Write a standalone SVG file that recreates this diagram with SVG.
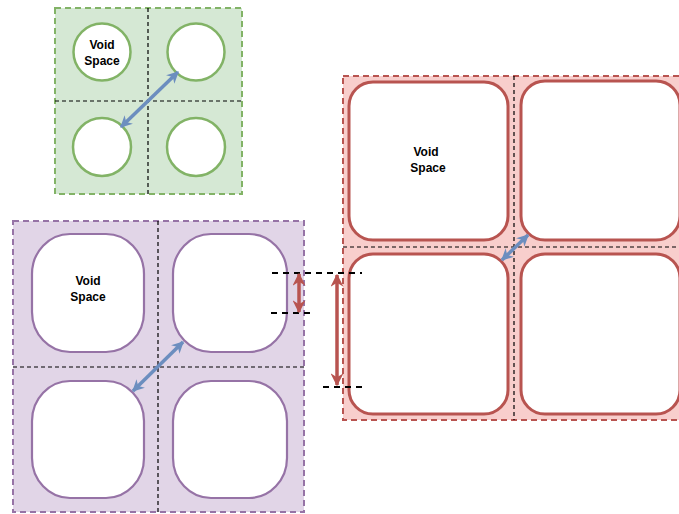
<svg xmlns="http://www.w3.org/2000/svg" width="679" height="514" viewBox="0 0 679 514">
  <style>
    .grid { fill: none; stroke: #000; stroke-width: 1.2; stroke-dasharray: 4 3; }
    .dim { fill: none; stroke: #000; stroke-width: 2; stroke-dasharray: 6 5; }
    .lbl { font-family: "Liberation Sans", Arial, sans-serif; font-size: 12px; font-weight: bold; fill: #000; text-anchor: middle; }
    .void { fill: #fff; }
    .frame { stroke-width: 2; stroke-dasharray: 6 4; }
    .gap { fill: none; stroke: #6c8ebf; stroke-width: 3.5; marker-start: url(#blueHead); marker-end: url(#blueHead); }
    .span { fill: none; stroke: #b85450; stroke-width: 3.5; marker-start: url(#redHead); marker-end: url(#redHead); }
  </style>
  <defs>
    <marker id="blueHead" viewBox="0 0 10 10" refX="9" refY="5" markerWidth="13" markerHeight="12" orient="auto-start-reverse" markerUnits="userSpaceOnUse">
      <path d="M0,0 L10,5 L0,10 L3,5 Z" fill="#6c8ebf"/>
    </marker>
    <marker id="redHead" viewBox="0 0 10 10" refX="9" refY="5" markerWidth="13" markerHeight="13" orient="auto-start-reverse" markerUnits="userSpaceOnUse">
      <path d="M0,0 L10,5 L0,10 L3,5 Z" fill="#b85450"/>
    </marker>
  </defs>

  <!-- circular pores -->
  <g id="green-cell">
    <rect class="frame" x="55" y="8" width="187" height="186" fill="#d5e8d4" stroke="#82b366"/>
    <line class="grid" x1="148" y1="8" x2="148" y2="194"/>
    <line class="grid" x1="55" y1="101" x2="242" y2="101"/>
    <g class="void" stroke="#82b366" stroke-width="2.5">
      <circle cx="102" cy="52" r="28.5"/>
      <circle cx="196" cy="52" r="28.5"/>
      <circle cx="102" cy="147" r="29"/>
      <circle cx="196" cy="147" r="29"/>
    </g>
    <text class="lbl" x="102" y="49">Void</text>
    <text class="lbl" x="102" y="65">Space</text>
  </g>

  <!-- rounded-square pores -->
  <g id="purple-cell">
    <rect class="frame" x="13" y="221" width="291" height="291" fill="#e1d5e7" stroke="#9673a6"/>
    <line class="grid" x1="158" y1="221" x2="158" y2="512"/>
    <line class="grid" x1="13" y1="367" x2="304" y2="367"/>
    <g class="void" stroke="#9673a6" stroke-width="2.2">
      <rect x="32" y="234" width="112" height="118" rx="38" ry="40"/>
      <rect x="173" y="234" width="114" height="118" rx="38" ry="40"/>
      <rect x="32" y="381" width="112" height="117" rx="38" ry="40"/>
      <rect x="173" y="381" width="114" height="117" rx="38" ry="40"/>
    </g>
    <text class="lbl" x="88" y="285">Void</text>
    <text class="lbl" x="88" y="301">Space</text>
  </g>

  <!-- square pores -->
  <g id="red-cell">
    <rect class="frame" x="343" y="76" width="340" height="344" fill="#f8cecc" stroke="#b85450"/>
    <line class="grid" x1="514" y1="76" x2="514" y2="420"/>
    <line class="grid" x1="343" y1="247" x2="683" y2="247"/>
    <g class="void" stroke="#b85450" stroke-width="3">
      <rect x="349" y="82" width="159" height="158" rx="24"/>
      <rect x="521" y="81" width="159" height="159" rx="24"/>
      <rect x="349" y="254" width="159" height="160" rx="24"/>
      <rect x="521" y="254" width="159" height="160" rx="24"/>
    </g>
    <text class="lbl" x="426" y="156">Void</text>
    <text class="lbl" x="428" y="172">Space</text>
  </g>

  <g id="connectors">
    <line class="gap" x1="178" y1="72" x2="121" y2="127"/>
    <line class="gap" x1="183" y1="342" x2="133" y2="391"/>
    <line class="gap" x1="528" y1="235" x2="502" y2="260"/>
    <line class="dim" x1="272" y1="273" x2="362" y2="273"/>
    <line class="dim" x1="271" y1="313" x2="312" y2="313"/>
    <line class="dim" x1="323" y1="387" x2="363" y2="387"/>
    <line class="span" x1="299" y1="274" x2="299" y2="312"/>
    <line class="span" x1="337" y1="275" x2="337" y2="385"/>
  </g>
</svg>
